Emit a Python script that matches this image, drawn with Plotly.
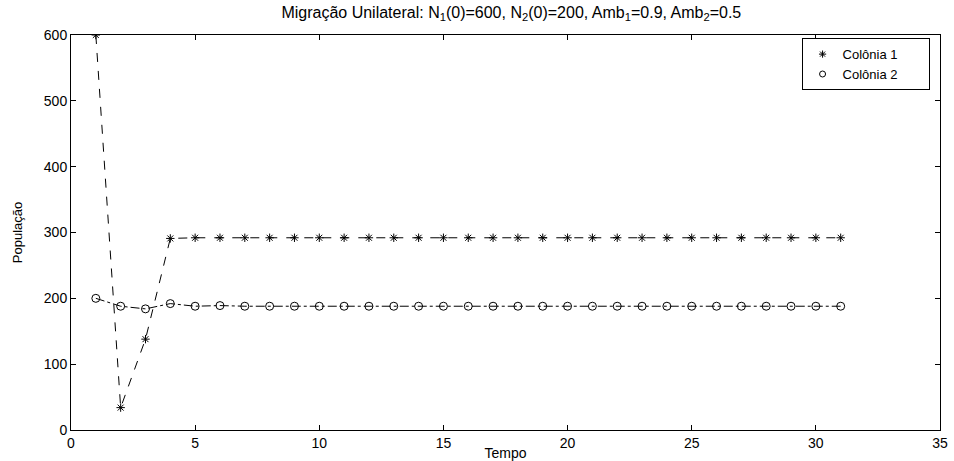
import plotly.graph_objects as go

tempo = list(range(1, 32))
colonia1 = [600, 34, 138, 291] + [292] * 27
colonia2 = [200, 188, 184, 192, 188, 189, 188] + [188] * 24

title = "Migração Unilateral: N<sub>1</sub>(0)=600, N<sub>2</sub>(0)=200, Amb<sub>1</sub>=0.9, Amb<sub>2</sub>=0.5"
xticks = [0, 5, 10, 15, 20, 25, 30, 35]
yticks = [0, 100, 200, 300, 400, 500, 600]
nomes = ["Colônia 1", "Colônia 2"]

fnt = "Liberation Sans, Arial, sans-serif"
pad = "\u00a0" * 7

fig = go.Figure()
fig.add_trace(go.Scatter(x=tempo, y=colonia1, mode="lines+markers", showlegend=False,
                         line=dict(color="black", width=1, dash="dash"),
                         marker=dict(symbol="asterisk-open", size=7, color="black",
                                     line=dict(color="black", width=1))))
fig.add_trace(go.Scatter(x=tempo, y=colonia2, mode="lines+markers", showlegend=False,
                         line=dict(color="black", width=1, dash="dashdot"),
                         marker=dict(symbol="circle-open", size=8, color="black",
                                     line=dict(color="black", width=1))))
fig.add_trace(go.Scatter(x=[None], y=[None], mode="markers", name=nomes[0] + pad,
                         marker=dict(symbol="asterisk-open", size=6, color="black",
                                     line=dict(color="black", width=1))))
fig.add_trace(go.Scatter(x=[None], y=[None], mode="markers", name=nomes[1] + pad,
                         marker=dict(symbol="circle-open", size=6, color="black",
                                     line=dict(color="black", width=1))))

axis_common = dict(showgrid=False, zeroline=False, showline=True, linecolor="black",
                   linewidth=1, mirror="ticks", ticks="inside", ticklen=5,
                   tickcolor="black", automargin=False,
                   tickfont=dict(family=fnt, size=14, color="black"))

fig.update_layout(
    width=954, height=461,
    margin=dict(l=71, r=14, t=35, b=31),
    paper_bgcolor="white", plot_bgcolor="white",
    title=dict(text=title, x=0.536, xanchor="center", y=0.985, yanchor="top",
               font=dict(family=fnt, size=16, color="black")),
    xaxis=dict(range=[0, 35], tickvals=xticks,
               title=dict(text="Tempo", font=dict(family=fnt, size=14, color="black"), standoff=0),
               **axis_common),
    yaxis=dict(range=[0, 600], tickvals=yticks,
               title=dict(text="População", font=dict(family="Liberation Sans Narrow, Arial Narrow, sans-serif", size=13, color="black"), standoff=18),
               **axis_common),
    legend=dict(x=0.988, xanchor="right", y=0.992, yanchor="top",
                bordercolor="black", borderwidth=1, bgcolor="white",
                font=dict(family=fnt, size=13, color="black"),
                tracegroupgap=0, itemwidth=30),
    showlegend=True,
)

fig.write_html("out.html")
